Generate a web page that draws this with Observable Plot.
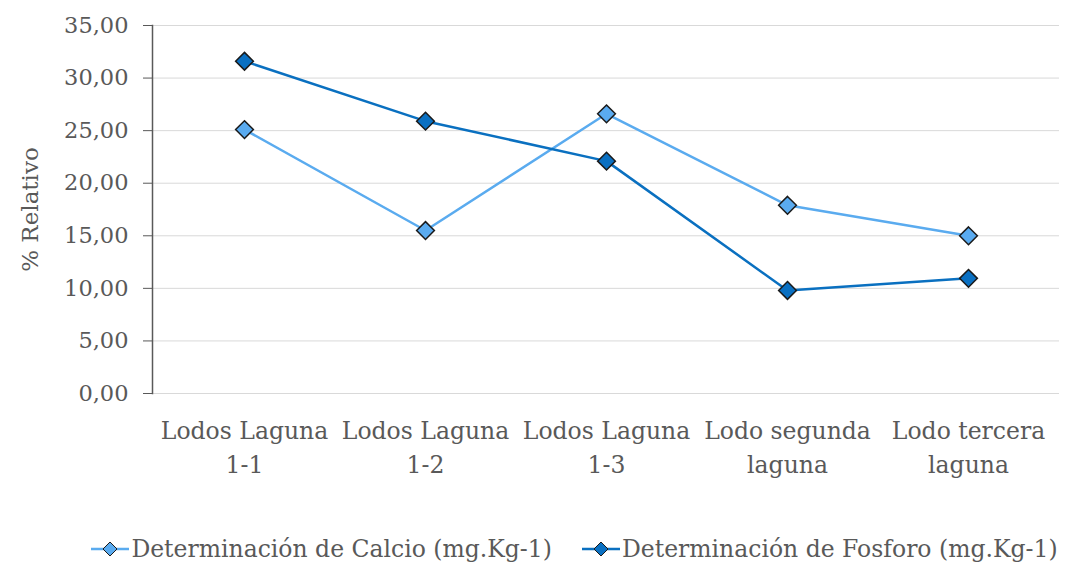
<!DOCTYPE html>
<html>
<head>
<meta charset="utf-8">
<script src="https://cdn.jsdelivr.net/npm/d3@7"></script>
<script src="https://cdn.jsdelivr.net/npm/@observablehq/plot@0.6"></script>
<style>
  html, body { margin: 0; padding: 0; background: #fff; }
  #chart { width: 1069px; height: 510px; }
  .legend { display: flex; justify-content: center; align-items: center; gap: 30px; height: 62px;
            padding-top: 16px; box-sizing: border-box; width: 1069px;
            font-family: "DejaVu Serif", serif; font-size: 23.5px; color: #595959; padding-left: 80px; }
  .legend span.item { display: inline-flex; align-items: center; }
  .legend svg { margin-right: 2px; }
</style>
</head>
<body>
<div id="chart"></div>
<script>
const categories = ["Lodos Laguna\n1-1", "Lodos Laguna\n1-2", "Lodos Laguna\n1-3", "Lodo segunda\nlaguna", "Lodo tercera\nlaguna"];
const calcio = [25.1, 15.5, 26.6, 17.9, 15.0];
const fosforo = [31.6, 25.9, 22.1, 9.8, 10.95];
const seriesNames = ["Determinación de Calcio (mg.Kg-1)", "Determinación de Fosforo (mg.Kg-1)"];
const seriesColors = ["#5aabf0", "#0a70c2"];
const lineColors = ["#5aabef", "#0a70c0"];
const yTicks = [0, 5, 10, 15, 20, 25, 30, 35];
const yTitle = "% Relativo";

const data = [];
categories.forEach((c, i) => {
  data.push({cat: c, value: calcio[i], series: seriesNames[0]});
  data.push({cat: c, value: fosforo[i], series: seriesNames[1]});
});

const fmt = d => d.toFixed(2).replace(".", ",");

const plot = Plot.plot({
  width: 1069,
  height: 510,
  marginLeft: 152,
  marginRight: 10,
  marginTop: 25,
  marginBottom: 117,
  style: {fontFamily: "DejaVu Serif, serif", color: "#595959", background: "#fff"},
  x: {type: "point", domain: categories, padding: 0.5},
  y: {domain: [0, 35]},
  color: {domain: seriesNames, range: seriesColors},
  marks: [
    Plot.gridY(yTicks, {stroke: "#d9d9d9", strokeOpacity: 1, strokeWidth: 1}),
    Plot.axisY(yTicks, {tickFormat: fmt, tickSize: 9, tickPadding: 15, fontSize: 22.5, label: null, stroke: "#595959", fill: "#595959"}),
    Plot.frame({anchor: "left", stroke: "#595959", strokeWidth: 1.5}),
    Plot.axisX({tickSize: 0, tickPadding: 22, fontSize: 23.5, lineHeight: 1.42, label: null, fill: "#595959"}),
    Plot.text([yTitle], {frameAnchor: "left", textAnchor: "middle", rotate: -90, dx: -122, fontSize: 23, fill: "#595959"}),
    Plot.line(data, {x: "cat", y: "value", z: "series", stroke: d => d.series === seriesNames[0] ? lineColors[0] : lineColors[1], strokeWidth: 2.5}),
    Plot.dot(data, {x: "cat", y: "value", symbol: "diamond2", r: 8, fill: "series", stroke: "#1a1a1a", strokeWidth: 1.5})
  ]
});
document.getElementById("chart").appendChild(plot);

const legend = document.createElement("div");
legend.className = "legend";
seriesNames.forEach((name, i) => {
  const item = document.createElement("span");
  item.className = "item";
  item.innerHTML = `<svg width="38" height="20" viewBox="0 0 38 20">
    <line x1="0" y1="10" x2="38" y2="10" stroke="${lineColors[i]}" stroke-width="2.5"/>
    <path d="M19,3 L26,10 L19,17 L12,10 Z" fill="${seriesColors[i]}" stroke="#1a1a1a" stroke-width="1"/>
  </svg>`;
  const t = document.createElement("span");
  t.textContent = name;
  item.appendChild(t);
  legend.appendChild(item);
});
document.body.appendChild(legend);
</script>
</body>
</html>
